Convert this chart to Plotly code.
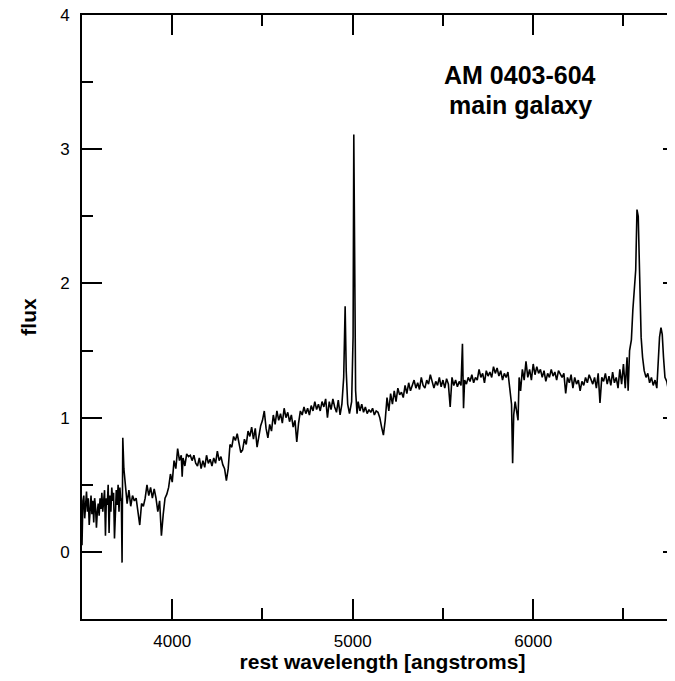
import plotly.graph_objects as go

# Spectrum of AM 0403-604 main galaxy
# Blue end (dense, noisy part)
wl_blue = [
    3500, 3505, 3510, 3515, 3520, 3525, 3530, 3535, 3540, 3545,
    3550, 3555, 3560, 3565, 3570, 3575, 3580, 3585, 3590, 3595,
    3600, 3605, 3610, 3615, 3620, 3625, 3630, 3635, 3640, 3645,
    3650, 3655, 3660, 3665, 3670, 3675, 3680, 3685, 3690, 3695,
    3700, 3705, 3710, 3715,
]
flux_blue = [
    0.05, 0.38, 0.42, 0.25, 0.35, 0.45, 0.30, 0.40, 0.20, 0.36,
    0.42, 0.28, 0.38, 0.22, 0.40, 0.33, 0.18, 0.30, 0.36, 0.27,
    0.40, 0.32, 0.44, 0.30, 0.38, 0.46, 0.12, 0.40, 0.35, 0.50,
    0.14, 0.42, 0.30, 0.48, 0.38, 0.44, 0.10, 0.40, 0.46, 0.35,
    0.50, 0.30, 0.48, 0.38,
]

# Rest of the spectrum
wl_main = [
    3718, 3722, 3726, 3732, 3740, 3750, 3760, 3770,
    3780, 3790, 3800, 3810, 3820, 3830, 3840, 3850, 3860, 3870,
    3880, 3890, 3900, 3910, 3920, 3930, 3940, 3950, 3960, 3970,
    3980, 3990, 4000, 4010, 4020, 4030, 4040, 4050, 4055, 4060,
    4070, 4080, 4090, 4100, 4110, 4120, 4130, 4140, 4150, 4160,
    4170, 4180, 4190, 4200, 4210, 4220, 4230, 4240, 4250, 4260,
    4270, 4280, 4290, 4300, 4310, 4320, 4330, 4340, 4350, 4360,
    4370, 4380, 4390, 4400, 4410, 4420, 4430, 4440, 4450, 4460,
    4470, 4480, 4490, 4500, 4510, 4520, 4530, 4540, 4550, 4560,
    4570, 4580, 4590, 4600, 4610, 4620, 4630, 4640, 4650, 4660,
    4670, 4680, 4690, 4700, 4710, 4720, 4730, 4740, 4750, 4760,
    4770, 4780, 4790, 4800, 4810, 4820, 4830, 4840, 4850, 4860,
    4870, 4880, 4890, 4900, 4910, 4920, 4930, 4940, 4950, 4958,
    4964, 4972, 4982, 4994, 5002, 5006, 5010, 5016, 5024, 5030,
    5040, 5050, 5060, 5070, 5080, 5090, 5100, 5110, 5120, 5130,
    5140, 5150, 5160, 5170, 5180, 5190, 5200, 5210, 5220, 5230,
    5240, 5250, 5260, 5270, 5280, 5290, 5300, 5310, 5320, 5330,
    5340, 5350, 5360, 5370, 5380, 5390, 5400, 5410, 5420, 5430,
    5440, 5450, 5460, 5470, 5480, 5490, 5500, 5510, 5520, 5530,
    5540, 5550, 5560, 5570, 5580, 5590, 5600, 5608, 5614, 5620,
    5630, 5640, 5650, 5660, 5670, 5680, 5690, 5700, 5710, 5720,
    5730, 5740, 5750, 5760, 5770, 5780, 5790, 5800, 5810, 5820,
    5830, 5840, 5850, 5860, 5870, 5880, 5886, 5892, 5900, 5910,
    5916, 5922, 5930, 5940, 5950, 5960, 5970, 5980, 5990, 6000,
    6010, 6020, 6030, 6040, 6050, 6060, 6070, 6080, 6090, 6100,
    6110, 6120, 6130, 6140, 6150, 6160, 6170, 6180, 6190, 6200,
    6210, 6220, 6230, 6240, 6250, 6260, 6270, 6280, 6290, 6300,
    6310, 6320, 6330, 6340, 6350, 6360, 6370, 6380, 6390, 6400,
    6410, 6420, 6430, 6440, 6450, 6460, 6470, 6480, 6490, 6500,
    6510, 6520, 6526, 6534, 6544, 6552, 6560, 6568, 6575, 6582,
    6590, 6598, 6606, 6615, 6625, 6635, 6645, 6655, 6665, 6675,
    6685, 6693, 6700, 6708, 6715, 6722, 6730, 6740, 6750, 6758,
    6765, 6775, 6790,
]
flux_main = [
    0.40, -0.08, 0.85, 0.62, 0.50, 0.36, 0.46, 0.34,
    0.42, 0.38, 0.40, 0.30, 0.20, 0.36, 0.34, 0.40, 0.50, 0.42,
    0.48, 0.40, 0.47, 0.40, 0.30, 0.38, 0.12, 0.28, 0.40, 0.43,
    0.48, 0.58, 0.52, 0.68, 0.62, 0.77, 0.68, 0.72, 0.56, 0.70,
    0.64, 0.73, 0.71, 0.72, 0.68, 0.72, 0.66, 0.64, 0.70, 0.62,
    0.68, 0.63, 0.72, 0.66, 0.69, 0.64, 0.70, 0.66, 0.75, 0.68,
    0.71, 0.65, 0.62, 0.53, 0.62, 0.80, 0.78, 0.86, 0.83, 0.88,
    0.82, 0.74, 0.76, 0.84, 0.80, 0.90, 0.86, 0.93, 0.84, 0.92,
    0.78, 0.88, 0.94, 0.98, 1.05, 0.92, 0.85, 0.95, 0.90, 1.02,
    0.95, 1.05, 0.98, 1.03, 0.96, 1.07, 1.00, 1.04, 0.97, 1.02,
    0.93, 0.98, 0.82, 0.96, 1.05, 1.02, 1.08, 1.03, 1.07, 1.02,
    1.09, 1.05, 1.12, 1.06, 1.10, 1.05, 1.12, 1.08, 1.14, 1.00,
    1.12, 1.06, 1.14, 1.08, 1.04, 1.13, 1.02, 1.10, 1.30, 1.83,
    1.35, 1.10, 1.03, 1.12, 1.60, 3.11, 2.40, 1.20, 1.03, 1.12,
    1.05, 1.10, 1.04, 1.08, 1.03, 1.06, 1.04, 1.07, 1.02, 1.05,
    1.04, 1.00, 0.93, 0.87, 0.98, 1.15, 1.05, 1.18, 1.10, 1.20,
    1.12, 1.22, 1.17, 1.19, 1.15, 1.24, 1.18, 1.26, 1.20, 1.24,
    1.28, 1.22, 1.26, 1.21, 1.30, 1.24, 1.22, 1.28, 1.25, 1.32,
    1.26, 1.22, 1.27, 1.24, 1.30, 1.23, 1.28, 1.22, 1.29, 1.25,
    1.08, 1.30, 1.24, 1.28, 1.23, 1.27, 1.24, 1.55, 1.07, 1.28,
    1.25, 1.30, 1.27, 1.32, 1.26, 1.30, 1.28, 1.36, 1.30, 1.33,
    1.26, 1.35, 1.31, 1.34, 1.30, 1.38, 1.33, 1.37, 1.31, 1.35,
    1.28, 1.33, 1.30, 1.34, 1.22, 1.10, 0.66, 1.02, 1.12, 1.05,
    0.98, 1.30, 1.20, 1.36, 1.28, 1.42, 1.30, 1.36, 1.28, 1.40,
    1.32, 1.38, 1.33, 1.36, 1.30, 1.35, 1.27, 1.33, 1.30, 1.36,
    1.31, 1.34, 1.28, 1.35, 1.32, 1.30, 1.33, 1.18, 1.30, 1.26,
    1.32, 1.22, 1.30, 1.25, 1.28, 1.20, 1.27, 1.24, 1.30, 1.26,
    1.32, 1.28, 1.25, 1.30, 1.22, 1.33, 1.11, 1.30, 1.27, 1.33,
    1.25, 1.31, 1.24, 1.34, 1.26, 1.30, 1.22, 1.36, 1.25, 1.40,
    1.22, 1.45, 1.20, 1.50, 1.58, 1.80, 1.95, 2.10, 2.55, 2.50,
    2.05, 1.60, 1.45, 1.35, 1.30, 1.33, 1.26, 1.30, 1.24, 1.28,
    1.22, 1.40, 1.60, 1.67, 1.62, 1.45, 1.30, 1.27, 1.20, 0.89,
    1.20, 1.15, 1.18,
]

wavelength = wl_blue + wl_main
flux = flux_blue + flux_main

x_range = [3500, 6830]
y_range = [-0.5, 4.0]
x_ticks = [4000, 5000, 6000]
y_ticks = [0, 1, 2, 3, 4]

title_lines = ["AM 0403-604", "main galaxy"]

FONT = "Arial, Liberation Sans, sans-serif"

fig = go.Figure()
fig.add_trace(go.Scatter(
    x=wavelength, y=flux, mode="lines",
    line=dict(color="black", width=1.6),
    showlegend=False, hoverinfo="skip",
))

fig.update_layout(
    width=675, height=665,
    margin=dict(l=74, r=0, t=7, b=54),
    paper_bgcolor="white", plot_bgcolor="white",
    font=dict(family=FONT, color="black", size=17),
    xaxis=dict(
        range=x_range, tickvals=x_ticks, ticktext=[str(v) for v in x_ticks],
        showgrid=False, zeroline=False, automargin=False,
        showline=True, linecolor="black", linewidth=2, mirror="allticks",
        ticks="inside", ticklen=20, tickwidth=1.5, tickcolor="black",
        minor=dict(dtick=500, tick0=3500, ticks="inside", ticklen=11,
                   tickwidth=1.5, tickcolor="black", showgrid=False),
        tickfont=dict(size=17, family=FONT), ticklabelstandoff=6,
        title=dict(text="<b>rest wavelength [angstroms]</b>",
                   font=dict(size=21, family=FONT), standoff=6),
    ),
    yaxis=dict(
        range=y_range, tickvals=y_ticks, ticktext=[str(v) for v in y_ticks],
        showgrid=False, zeroline=False, automargin=False,
        showline=True, linecolor="black", linewidth=2, mirror="allticks",
        ticks="inside", ticklen=20, tickwidth=1.5, tickcolor="black",
        minor=dict(dtick=0.5, tick0=0, ticks="inside", ticklen=11,
                   tickwidth=1.5, tickcolor="black", showgrid=False),
        tickfont=dict(size=17, family=FONT), ticklabelstandoff=7,
        ticklabeloverflow="allow",
        title=dict(text="<b>flux</b>", font=dict(size=21, family=FONT),
                   standoff=18),
    ),
    annotations=[
        dict(text="<b>%s</b>" % title_lines[0], xref="paper", yref="paper",
             x=0.729, y=0.90, xanchor="center", yanchor="middle",
             showarrow=False, font=dict(size=25, family=FONT, color="black")),
        dict(text="<b>%s</b>" % title_lines[1], xref="paper", yref="paper",
             x=0.729, y=0.851, xanchor="center", yanchor="middle",
             showarrow=False, font=dict(size=25, family=FONT, color="black")),
    ],
)

fig.write_html("out.html")
